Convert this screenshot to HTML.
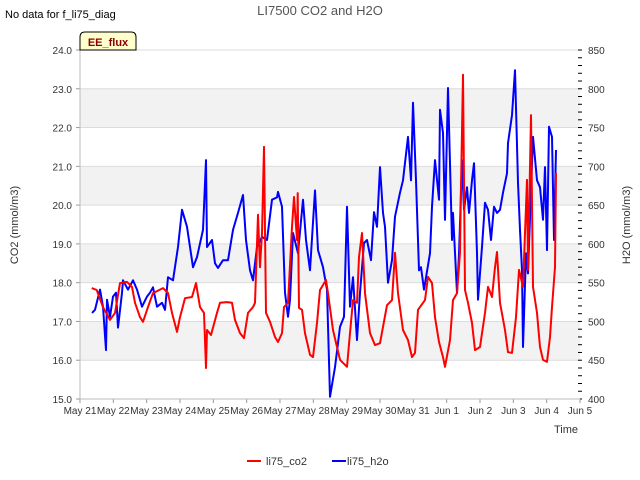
<!DOCTYPE html>
<html><head><meta charset="utf-8"><style>
body{margin:0;background:#fff;}
svg{display:block;font-family:"Liberation Sans",sans-serif;}
</style></head><body>
<svg id="chart" width="640" height="480">
<text x="5" y="18" font-size="11" fill="#000">No data for f_li75_diag</text>
<text x="320" y="15" font-size="13" fill="#555" text-anchor="middle">LI7500 CO2 and H2O</text>
<g id="bands"></g>
<g id="series"></g>
<g id="axes"></g>
<g>
<path d="M80,50 L80,37 Q80,32 85,32 L131,32 Q136,32 136,37 L136,50 Z" fill="#ffffcc" stroke="#000" stroke-width="1"/>
<text x="108" y="46" font-size="11" font-weight="bold" fill="#8b0000" text-anchor="middle">EE_flux</text>
</g>
<text x="566" y="433" font-size="11" fill="#333" text-anchor="middle">Time</text>
<text transform="translate(18,225) rotate(-90)" font-size="11" fill="#333" text-anchor="middle">CO2 (mmol/m3)</text>
<text transform="translate(630,225) rotate(-90)" font-size="11" fill="#333" text-anchor="middle">H2O (mmol/m3)</text>
<g>
<line x1="247" y1="461" x2="261" y2="461" stroke="#f00" stroke-width="2"/>
<text x="266" y="465" font-size="11" fill="#333">li75_co2</text>
</g>
<g>
<line x1="332" y1="461" x2="346" y2="461" stroke="#00f" stroke-width="2"/>
<text x="347" y="465" font-size="11" fill="#333">li75_h2o</text>
</g>
</svg>
<script>
const xTickLabels=["May 21","May 22","May 23","May 24","May 25","May 26","May 27","May 28","May 29","May 30","May 31","Jun 1","Jun 2","Jun 3","Jun 4","Jun 5"];
const leftTicks=[15,16,17,18,19,20,21,22,23,24];
const rightTicks=[400,450,500,550,600,650,700,750,800,850];
const co2Days=[0.35,0.50,0.69,0.90,1.05,1.20,1.41,1.56,1.65,1.80,1.89,2.04,2.19,2.49,2.64,2.76,2.91,3.00,3.15,3.36,3.48,3.60,3.72,3.78,3.81,3.93,4.11,4.20,4.41,4.56,4.65,4.80,4.92,5.04,5.19,5.25,5.34,5.40,5.46,5.52,5.58,5.70,5.85,5.94,6.06,6.12,6.24,6.36,6.42,6.51,6.53,6.57,6.66,6.75,6.90,6.99,7.11,7.20,7.38,7.44,7.59,7.80,8.01,8.10,8.19,8.31,8.37,8.46,8.55,8.70,8.85,9.00,9.09,9.21,9.36,9.45,9.54,9.69,9.84,9.96,10.05,10.14,10.35,10.44,10.56,10.65,10.77,10.89,10.95,11.10,11.19,11.31,11.40,11.43,11.49,11.55,11.64,11.76,11.85,12.00,12.15,12.24,12.36,12.45,12.51,12.60,12.75,12.84,12.96,13.08,13.17,13.29,13.41,13.44,13.53,13.59,13.71,13.80,13.89,14.01,14.10,14.16,14.25,14.28];
const co2Values=[17.86,17.81,17.37,17.04,17.22,17.99,18.02,17.89,17.48,17.11,16.99,17.37,17.73,17.86,17.73,17.22,16.73,17.11,17.60,17.63,17.99,17.37,17.22,15.80,16.78,16.65,17.22,17.48,17.50,17.48,17.04,16.70,16.57,17.22,17.37,17.48,19.75,18.40,19.28,21.50,17.22,16.99,16.60,16.47,16.70,17.37,17.48,19.44,20.21,19.10,20.31,17.35,17.30,16.70,16.14,16.08,16.96,17.81,18.07,17.73,16.78,16.01,15.83,16.70,17.55,17.48,18.66,19.28,17.73,16.70,16.39,16.44,16.86,17.42,17.55,18.77,17.73,16.78,16.52,16.08,16.19,17.30,17.55,18.15,17.99,17.11,16.47,16.08,15.83,16.52,17.55,17.73,18.77,20.47,23.36,17.81,17.48,16.96,16.26,16.34,17.22,17.89,17.63,18.40,18.79,17.48,16.78,16.21,16.19,17.11,18.33,17.89,20.65,18.33,22.32,17.89,17.22,16.34,16.01,15.96,16.60,17.37,18.40,20.83];
const h2oDays=[0.36,0.45,0.60,0.69,0.78,0.81,0.90,0.99,1.08,1.14,1.26,1.29,1.44,1.59,1.71,1.86,2.01,2.10,2.19,2.31,2.46,2.55,2.64,2.79,2.94,3.06,3.21,3.39,3.51,3.69,3.78,3.81,3.96,4.05,4.14,4.29,4.44,4.59,4.74,4.89,4.98,5.10,5.19,5.31,5.46,5.61,5.76,5.91,5.94,6.06,6.15,6.24,6.30,6.39,6.54,6.69,6.78,6.90,7.05,7.14,7.29,7.41,7.50,7.65,7.80,7.92,8.01,8.10,8.19,8.31,8.40,8.52,8.61,8.73,8.82,8.91,9.00,9.09,9.15,9.24,9.36,9.45,9.60,9.69,9.84,9.93,9.99,10.08,10.17,10.23,10.32,10.50,10.56,10.65,10.77,10.80,10.89,10.95,11.04,11.16,11.19,11.31,11.37,11.46,11.52,11.61,11.67,11.76,11.82,11.91,11.94,12.06,12.15,12.24,12.33,12.42,12.51,12.60,12.69,12.81,12.84,12.96,13.05,13.14,13.20,13.26,13.29,13.38,13.44,13.53,13.59,13.71,13.80,13.89,13.95,14.01,14.07,14.16,14.22,14.28];
const h2oValues=[511,515,541,519,463,528,506,532,537,492,537,553,541,553,541,519,532,537,544,519,524,515,557,553,596,644,622,570,583,618,708,596,605,575,569,579,579,618,640,663,605,566,553,596,609,605,657,660,667,648,537,506,528,614,588,657,605,566,669,592,570,541,403,441,493,506,648,519,557,476,537,601,605,579,641,622,699,640,622,550,579,635,666,682,738,682,782,682,566,570,541,588,648,708,657,773,743,631,801,605,640,537,586,708,644,673,640,682,704,588,528,596,653,644,605,648,640,644,666,691,730,766,824,679,618,566,467,588,562,669,738,682,673,631,699,592,751,738,605,721];
const X0=80,X1=580,Y0=399,Y1=50,NS="http://www.w3.org/2000/svg";
function xs(d){return X0+(X1-X0)*d/15;}
function yl(v){return Y0-(Y0-Y1)*(v-15)/9;}
function yr(v){return Y0-(Y0-Y1)*(v-400)/450;}
function mk(tag,attrs,parent){const e=document.createElementNS(NS,tag);for(const k in attrs)e.setAttribute(k,attrs[k]);parent.appendChild(e);return e;}
const bands=document.getElementById('bands'),axes=document.getElementById('axes'),series=document.getElementById('series');
for(let i=0;i<leftTicks.length-1;i++){
  if(i%2===1){const r=mk('rect',{x:X0,y:yl(leftTicks[i+1]),width:X1-X0,height:yl(leftTicks[i])-yl(leftTicks[i+1]),fill:'#f2f2f2'},bands);
  
  }
}
leftTicks.forEach(v=>{
  const g=mk('line',{x1:X0,x2:X1,y1:yl(v),y2:yl(v),stroke:'#dcdcdc','stroke-width':1},bands);
  
  
  const t=mk('text',{x:72,y:yl(v)+4,'font-size':10,fill:'#333','text-anchor':'end'},axes);
  t.textContent=v.toFixed(1);
  
  
  mk('line',{x1:X0-4,x2:X0,y1:yl(v),y2:yl(v),stroke:'#999'},axes);
});
rightTicks.forEach(v=>{
  const t=mk('text',{x:588,y:yr(v)+4,'font-size':10,fill:'#333'},axes);
  t.textContent=v;
  
  
});
for(let v=400;v<=850;v+=10){mk('line',{x1:X1-2,x2:X1+2,y1:yr(v),y2:yr(v),stroke:'#000'},axes);}
xTickLabels.forEach((s,i)=>{
  const t=mk('text',{x:xs(i),y:414,'font-size':10,fill:'#333','text-anchor':'middle'},axes);
  t.textContent=s;
  
  
  mk('line',{x1:xs(i),x2:xs(i),y1:Y0,y2:Y0+4,stroke:'#999'},axes);
});
mk('line',{x1:X0,x2:X0,y1:Y1,y2:Y0,stroke:'#bbb'},axes);
mk('line',{x1:X0,x2:X1,y1:Y0,y2:Y0,stroke:'#bbb'},axes);
const pc=mk('polyline',{points:co2Days.map((d,i)=>xs(d).toFixed(1)+','+yl(co2Values[i]).toFixed(1)).join(' '),fill:'none',stroke:'#f00','stroke-width':2,'stroke-linejoin':'round'},series);


const ph=mk('polyline',{points:h2oDays.map((d,i)=>xs(d).toFixed(1)+','+yr(h2oValues[i]).toFixed(1)).join(' '),fill:'none',stroke:'#00f','stroke-width':2,'stroke-linejoin':'round'},series);


series.appendChild(pc);
</script>
</body></html>
